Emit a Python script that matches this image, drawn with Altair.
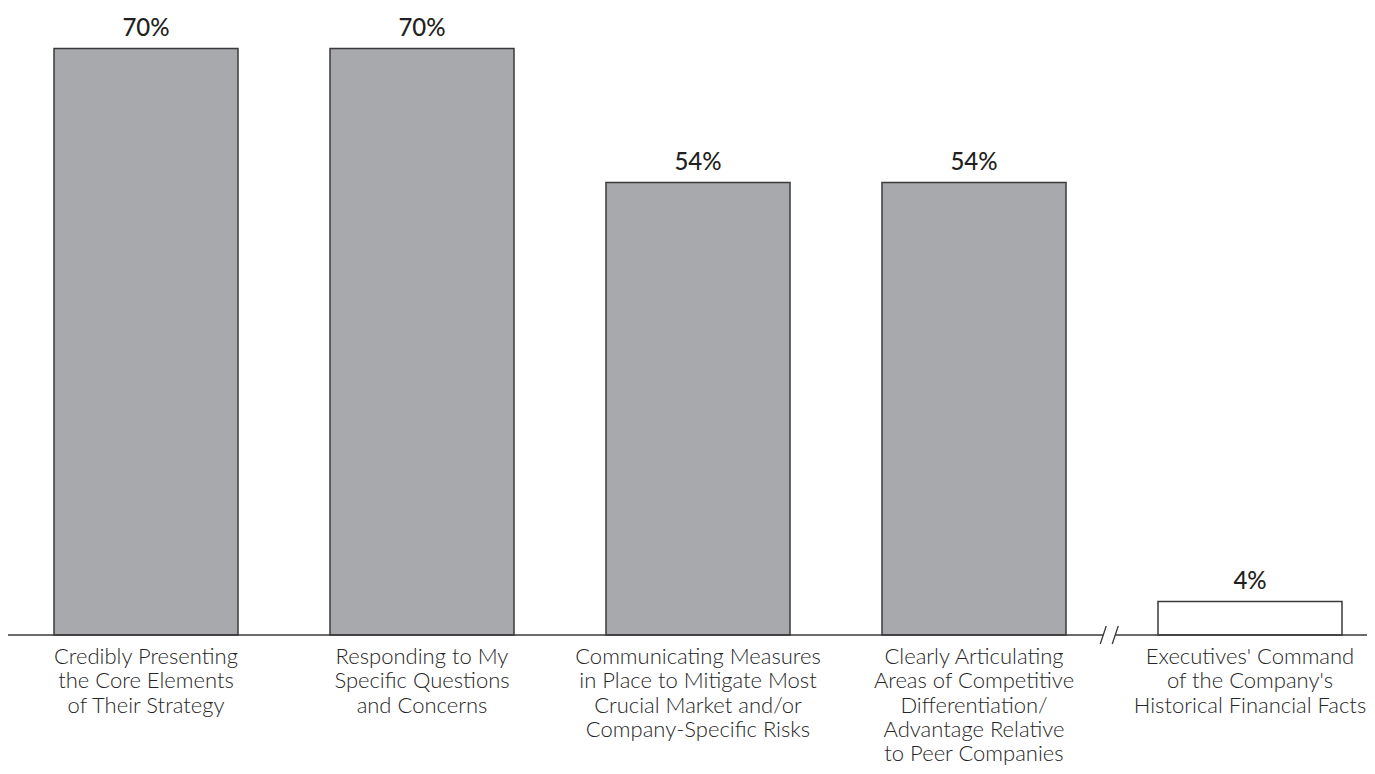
import altair as alt
import pandas as pd

categories = [
    "Credibly Presenting\nthe Core Elements\nof Their Strategy",
    "Responding to My\nSpecific Questions\nand Concerns",
    "Communicating Measures\nin Place to Mitigate Most\nCrucial Market and/or\nCompany-Specific Risks",
    "Clearly Articulating\nAreas of Competitive\nDifferentiation/\nAdvantage Relative\nto Peer Companies",
    "Executives' Command\nof the Company's\nHistorical Financial Facts",
]
values = [70, 70, 54, 54, 4]
value_labels = ["70%", "70%", "54%", "54%", "4%"]
after_break = [False, False, False, False, True]

W, H = 1359, 758
PX_PER_UNIT = 276.0
X_MIN = -0.5
X_MAX = X_MIN + W / PX_PER_UNIT
Y_PX = 8.38
Y_TOP = 627 / Y_PX
Y_BOTTOM = -(H - 627) / Y_PX

df = pd.DataFrame({
    "category": categories,
    "value": values,
    "label": value_labels,
    "broken": after_break,
    "idx": list(range(len(categories))),
})

xs = alt.Scale(domain=[X_MIN, X_MAX], nice=False, zero=False)
ys = alt.Scale(domain=[Y_BOTTOM, Y_TOP], nice=False, zero=False)

base = alt.Chart(df).transform_calculate(
    x0="datum.idx - 1/3", x1="datum.idx + 1/3", zero="0"
)

bars = base.mark_bar(stroke="#3a3a3a", strokeWidth=1.5).encode(
    x=alt.X("x0:Q", scale=xs, axis=None),
    x2="x1:Q",
    y=alt.Y("value:Q", scale=ys, axis=None),
    y2="zero:Q",
    fill=alt.condition("datum.broken", alt.value("#FFFFFF"), alt.value("#A7A9AC")),
)

vals = base.mark_text(
    font="Lato", fontSize=24, fontWeight=500, color="#231F20",
    baseline="alphabetic", dy=-12,
).encode(
    x=alt.X("idx:Q", scale=xs, axis=None),
    y=alt.Y("value:Q", scale=ys, axis=None),
    text="label:N",
)

cats = base.mark_text(
    font="Lato", fontSize=22, fontWeight=300, color="#262626",
    baseline="alphabetic", dy=29, lineBreak="\n", lineHeight=24.3,
).encode(
    x=alt.X("idx:Q", scale=xs, axis=None),
    y=alt.Y("zero:Q", scale=ys, axis=None),
    text="category:N",
)

# axis baseline with a break mark between the 4th and 5th categories
BREAK_AT = 3.49
gap = 6 / PX_PER_UNIT
slash_dx = 3 / PX_PER_UNIT
slash_dy = 9 / Y_PX
seg = pd.DataFrame({
    "a": [X_MIN, BREAK_AT + gap],
    "b": [BREAK_AT - gap, X_MAX],
    "y": [0, 0],
})
baseline = alt.Chart(seg).mark_rule(color="#3a3a3a", strokeWidth=1.5).encode(
    x=alt.X("a:Q", scale=xs, axis=None), x2="b:Q",
    y=alt.Y("y:Q", scale=ys, axis=None),
)
sl = pd.DataFrame({
    "xa": [BREAK_AT - gap - slash_dx, BREAK_AT + gap - slash_dx],
    "xb": [BREAK_AT - gap + slash_dx, BREAK_AT + gap + slash_dx],
    "ya": [-slash_dy, -slash_dy],
    "yb": [slash_dy, slash_dy],
})
slashes = alt.Chart(sl).mark_rule(color="#3a3a3a", strokeWidth=1.3).encode(
    x=alt.X("xa:Q", scale=xs, axis=None), x2="xb:Q",
    y=alt.Y("ya:Q", scale=ys, axis=None), y2="yb:Q",
)

chart = alt.layer(bars, baseline, slashes, vals, cats).properties(
    width=W, height=H, padding=0, autosize=alt.AutoSizeParams(type="none"),
    background="white",
).configure_view(stroke=None)

chart.save("out.html", embed_options={"renderer": "svg", "actions": False})
